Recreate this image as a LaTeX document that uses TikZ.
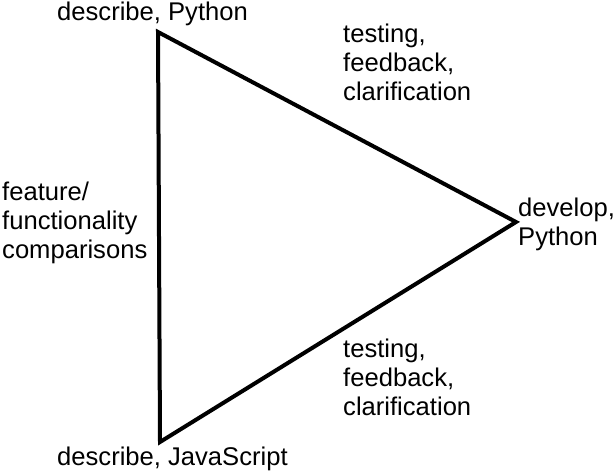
\documentclass[tikz,border=0pt]{standalone}
\usepackage{fontspec}
\setmainfont{Liberation Sans}
\usetikzlibrary{positioning}

\begin{document}
\begin{tikzpicture}[x=1pt,y=-1pt,
  every node/.style={inner sep=0pt, font=\fontsize{25.6}{28.8}\selectfont},
  lbl/.style={align=left, anchor=base west}]
\useasboundingbox (0,0) rectangle (615,471);

% vrcholy
\coordinate (top) at (158,32);
\coordinate (rgt) at (516,222);
\coordinate (bot) at (160,442);
\draw[line width=4pt] (top) -- (rgt) -- (bot) -- cycle;

% popisky vrcholu
\node[lbl] (nTop) at (57,20) {describe, Python};
\node[lbl] (nRgt) at (518,245) {develop,\\Python};
\node[lbl] (nBot) at (57,465) {describe, JavaScript};

% popisky stran (base = posledni radek)
\node[lbl] (eUp) at (343,100) {testing,\\feedback,\\clarification};
\node[lbl] (eDown) at (343,415) {testing,\\feedback,\\clarification};
\node[lbl] (eLeft) at (2,258) {feature/\\functionality\\comparisons};

\end{tikzpicture}
\end{document}
